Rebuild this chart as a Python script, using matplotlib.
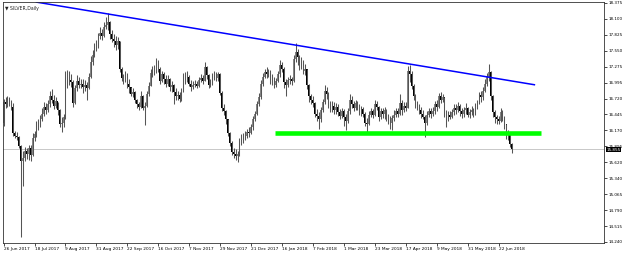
import matplotlib
matplotlib.use("Agg")
import matplotlib.pyplot as plt
import numpy as np

# daily SILVER candles, 26 Jun 2017 .. early Jul 2018
date_labels = ["26 Jun 2017", "18 Jul 2017", "9 Aug 2017", "31 Aug 2017", "22 Sep 2017",
               "16 Oct 2017", "7 Nov 2017", "29 Nov 2017", "21 Dec 2017", "16 Jan 2018",
               "7 Feb 2018", "1 Mar 2018", "23 Mar 2018", "17 Apr 2018", "9 May 2018",
               "31 May 2018", "22 Jun 2018"]
label_every = 16

first_open = 16.30
closes = [
    16.66, 16.62, 16.70, 16.66, 16.58, 16.12, 16.08, 16.06, 15.90, 15.64,
    15.70, 15.82, 15.76, 15.86, 15.74, 16.04, 16.10, 16.28, 16.24, 16.36,
    16.46, 16.58, 16.52, 16.62, 16.76, 16.70, 16.60, 16.68, 16.52, 16.28,
    16.30, 16.40, 16.90, 17.10, 17.04, 17.00, 16.64, 16.90, 17.02, 16.96,
    16.98, 16.92, 16.96, 16.90, 17.10, 17.36, 17.48, 17.58, 17.62, 17.80,
    17.86, 17.80, 17.96, 18.00, 18.04, 17.84, 17.76, 17.72, 17.64, 17.72,
    17.24, 17.08, 17.04, 17.12, 16.98, 16.92, 16.80, 16.84, 16.70, 16.62,
    16.58, 16.76, 16.56, 16.60, 16.80, 16.94, 17.16, 17.20, 17.18, 17.32,
    17.24, 17.02, 17.14, 17.06, 16.98, 17.06, 16.92, 16.96, 16.84, 16.76,
    16.78, 16.72, 16.86, 17.08, 17.04, 17.10, 16.98, 16.92, 16.96, 16.98,
    16.94, 17.04, 17.08, 17.02, 17.26, 17.12, 16.96, 17.00, 17.10, 17.16,
    17.08, 17.14, 16.82, 16.56, 16.50, 16.36, 16.12, 15.96, 15.80, 15.76,
    15.72, 15.76, 15.98, 16.02, 16.04, 16.08, 16.14, 16.12, 16.22, 16.36,
    16.46, 16.62, 16.74, 16.98, 17.10, 17.18, 17.14, 17.20, 17.04, 17.08,
    16.96, 17.02, 17.14, 17.30, 17.24, 17.00, 16.96, 17.04, 17.06, 17.02,
    17.40, 17.52, 17.44, 17.30, 17.36, 17.20, 17.24, 16.96, 16.76, 16.70,
    16.64, 16.46, 16.42, 16.36, 16.52, 16.66, 16.86, 16.80, 16.62, 16.56,
    16.60, 16.52, 16.58, 16.48, 16.42, 16.50, 16.40, 16.34, 16.50, 16.70,
    16.62, 16.56, 16.64, 16.58, 16.50, 16.54, 16.46, 16.30, 16.28, 16.44,
    16.50, 16.44, 16.62, 16.58, 16.40, 16.50, 16.46, 16.52, 16.40, 16.34,
    16.30, 16.38, 16.44, 16.50, 16.46, 16.64, 16.52, 16.60, 16.56, 17.20,
    17.14, 16.94, 16.76, 16.62, 16.58, 16.52, 16.46, 16.40, 16.30, 16.44,
    16.50, 16.46, 16.50, 16.62, 16.58, 16.76, 16.70, 16.74, 16.46, 16.36,
    16.44, 16.40, 16.48, 16.56, 16.52, 16.60, 16.50, 16.46, 16.52, 16.56,
    16.44, 16.48, 16.52, 16.46, 16.58, 16.66, 16.78, 16.74, 16.86, 16.98,
    17.10, 17.18, 16.76, 16.48, 16.40, 16.36, 16.34, 16.48, 16.40, 16.28,
    16.10, 16.12, 15.94, 15.855]
highs = [
    16.72, 16.74, 16.76, 16.74, 16.70, 16.64, 16.16, 16.14, 16.08, 15.92,
    15.82, 15.88, 15.86, 15.92, 15.92, 16.12, 16.16, 16.34, 16.36, 16.44,
    16.56, 16.66, 16.64, 16.70, 16.86, 16.88, 16.78, 16.74, 16.66, 16.54,
    16.40, 16.46, 17.20, 17.22, 17.20, 17.14, 17.04, 16.96, 17.12, 17.10,
    17.06, 17.06, 17.04, 17.00, 17.16, 17.46, 17.56, 17.68, 17.74, 17.86,
    17.96, 17.92, 18.04, 18.14, 18.20, 18.06, 17.90, 17.84, 17.80, 17.78,
    17.72, 17.26, 17.14, 17.20, 17.16, 17.06, 16.92, 16.90, 16.86, 16.72,
    16.66, 16.86, 16.78, 16.66, 16.86, 17.00, 17.24, 17.28, 17.30, 17.42,
    17.38, 17.26, 17.20, 17.18, 17.12, 17.12, 17.08, 17.02, 16.98, 16.90,
    16.86, 16.84, 16.90, 17.16, 17.18, 17.20, 17.12, 17.04, 17.02, 17.04,
    17.02, 17.10, 17.14, 17.12, 17.36, 17.28, 17.14, 17.06, 17.16, 17.20,
    17.18, 17.18, 17.16, 16.86, 16.62, 16.52, 16.36, 16.14, 15.98, 15.86,
    15.84, 15.82, 16.04, 16.10, 16.12, 16.16, 16.20, 16.22, 16.28, 16.42,
    16.50, 16.68, 16.82, 17.04, 17.16, 17.24, 17.26, 17.24, 17.22, 17.14,
    17.10, 17.08, 17.20, 17.38, 17.36, 17.26, 17.06, 17.10, 17.12, 17.10,
    17.48, 17.68, 17.58, 17.48, 17.44, 17.38, 17.32, 17.24, 16.98, 16.80,
    16.76, 16.66, 16.54, 16.48, 16.58, 16.72, 16.96, 16.92, 16.84, 16.68,
    16.68, 16.66, 16.64, 16.62, 16.54, 16.56, 16.54, 16.46, 16.56, 16.80,
    16.76, 16.68, 16.70, 16.68, 16.62, 16.60, 16.58, 16.48, 16.38, 16.50,
    16.56, 16.54, 16.70, 16.68, 16.60, 16.56, 16.56, 16.58, 16.54, 16.46,
    16.42, 16.44, 16.52, 16.56, 16.56, 16.80, 16.70, 16.66, 16.66, 17.28,
    17.30, 17.20, 16.98, 16.80, 16.68, 16.62, 16.58, 16.52, 16.44, 16.50,
    16.56, 16.56, 16.58, 16.68, 16.70, 16.82, 16.84, 16.80, 16.74, 16.52,
    16.50, 16.50, 16.54, 16.62, 16.62, 16.66, 16.62, 16.56, 16.58, 16.64,
    16.58, 16.54, 16.60, 16.56, 16.64, 16.70, 16.84, 16.86, 16.92, 17.06,
    17.16, 17.32, 17.20, 16.78, 16.52, 16.44, 16.42, 16.56, 16.52, 16.42,
    16.28, 16.18, 16.14, 15.96]
lows = [
    16.24, 16.56, 16.58, 16.60, 16.52, 16.08, 16.04, 16.00, 15.86, 14.33,
    15.20, 15.64, 15.68, 15.66, 15.64, 15.72, 15.98, 16.06, 16.18, 16.22,
    16.34, 16.42, 16.46, 16.48, 16.58, 16.64, 16.54, 16.56, 16.44, 16.22,
    16.14, 16.22, 16.36, 16.90, 16.96, 16.92, 16.58, 16.62, 16.86, 16.90,
    16.90, 16.82, 16.86, 16.70, 16.88, 17.08, 17.30, 17.44, 17.54, 17.60,
    17.76, 17.74, 17.78, 17.92, 17.90, 17.76, 17.70, 17.62, 17.56, 17.58,
    17.18, 17.02, 16.98, 17.00, 16.90, 16.82, 16.76, 16.74, 16.64, 16.56,
    16.52, 16.56, 16.52, 16.26, 16.58, 16.76, 16.94, 17.10, 17.12, 17.16,
    17.18, 16.98, 17.00, 16.98, 16.92, 16.94, 16.86, 16.84, 16.62, 16.70,
    16.70, 16.66, 16.68, 16.84, 16.98, 17.00, 16.94, 16.86, 16.88, 16.92,
    16.90, 16.92, 17.00, 16.98, 17.02, 17.06, 16.90, 16.92, 16.96, 17.04,
    17.02, 17.02, 16.78, 16.50, 16.44, 16.28, 16.08, 15.90, 15.74, 15.70,
    15.66, 15.62, 15.72, 15.92, 15.96, 16.00, 16.04, 16.06, 16.10, 16.18,
    16.34, 16.44, 16.60, 16.72, 16.94, 17.08, 17.08, 17.10, 16.98, 16.96,
    16.90, 16.92, 17.00, 17.10, 17.18, 16.90, 16.76, 16.92, 16.98, 16.96,
    17.00, 17.36, 17.30, 17.22, 17.24, 17.14, 17.12, 16.88, 16.66, 16.62,
    16.58, 16.40, 16.34, 16.20, 16.32, 16.48, 16.62, 16.72, 16.56, 16.48,
    16.48, 16.46, 16.46, 16.42, 16.36, 16.38, 16.24, 16.18, 16.30, 16.46,
    16.56, 16.50, 16.52, 16.52, 16.44, 16.42, 16.40, 16.24, 16.14, 16.26,
    16.40, 16.38, 16.42, 16.52, 16.34, 16.36, 16.38, 16.36, 16.34, 16.28,
    16.20, 16.18, 16.34, 16.40, 16.40, 16.44, 16.44, 16.48, 16.50, 16.56,
    17.00, 16.88, 16.70, 16.56, 16.52, 16.46, 16.38, 16.36, 16.06, 16.26,
    16.40, 16.38, 16.42, 16.46, 16.50, 16.56, 16.64, 16.66, 16.40, 16.22,
    16.34, 16.36, 16.38, 16.44, 16.46, 16.48, 16.42, 16.38, 16.40, 16.46,
    16.40, 16.38, 16.44, 16.40, 16.44, 16.54, 16.62, 16.66, 16.70, 16.84,
    16.94, 17.02, 16.70, 16.40, 16.30, 16.28, 16.28, 16.32, 16.34, 16.20,
    16.02, 16.00, 15.88, 15.78]

price_ticks = [18.375, 18.100, 17.825, 17.550, 17.275, 16.995, 16.720, 16.445,
               16.170, 15.895, 15.620, 15.340, 15.065, 14.790, 14.515, 14.240]

# drawn objects: resistance trendline and support zone
trend_bars = [17.0, 274.5]
trend_prices = [18.39, 16.96]
support_bars = [140.6, 277.7]
support_price = 16.12


def main():
    c = np.array(closes)
    h = np.array(highs)
    l = np.array(lows)
    o = np.r_[first_open, c[:-1]]
    idx = np.arange(len(c))
    up = c >= o

    fig = plt.figure(figsize=(6.25, 2.54), dpi=100)
    ax = fig.add_axes([3 / 625, 1 - 243 / 254, 601 / 625, 241 / 254])

    ax.vlines(idx, l, h, color='#555555', lw=0.75)
    body_lo = np.minimum(o, c)
    body_h = np.maximum(np.abs(c - o), 0.015)
    ax.bar(idx[up], body_h[up], bottom=body_lo[up], width=0.8, color='#858585', linewidth=0)
    ax.bar(idx[~up], body_h[~up], bottom=body_lo[~up], width=0.8, color='black', linewidth=0)

    last = c[-1]
    ax.axhline(last, color='#c8c8c8', lw=0.7, zorder=0)
    ax.plot(trend_bars, trend_prices, color='#0000ff', lw=1.1)
    ax.plot(support_bars, [support_price, support_price], color='#00ff00', lw=3.3,
            solid_capstyle='butt')

    ax.set_xlim(-0.3, 310.5)
    ax.set_ylim(14.221, 18.392)

    ax.yaxis.tick_right()
    ax.set_yticks(price_ticks, [f"{v:.3f}" for v in price_ticks])
    xt = np.arange(len(date_labels)) * label_every
    ax.set_xticks(xt, date_labels, ha='left')
    ax.tick_params(axis='both', length=2, width=0.5, pad=1, colors='black')
    ax.tick_params(axis='x', labelsize=3.05)
    ax.tick_params(axis='y', labelsize=3.0)
    for s in ax.spines.values():
        s.set_linewidth(0.6)
        s.set_color('#333333')

    ax.annotate(f"{last:.3f}", xy=(1, last), xycoords=('axes fraction', 'data'),
                xytext=(1.6, -0.8), textcoords='offset points', ha='left', va='center',
                fontsize=3.0, color='white',
                bbox=dict(facecolor='black', edgecolor='none', pad=0.4))

    ax.text(0.004, 0.982, "▼ SILVER,Daily", transform=ax.transAxes, fontsize=3.3,
            va='top', ha='left', color='#222222')

    fig.savefig("out.png", dpi=100, facecolor='white')


if __name__ == '__main__':
    main()
